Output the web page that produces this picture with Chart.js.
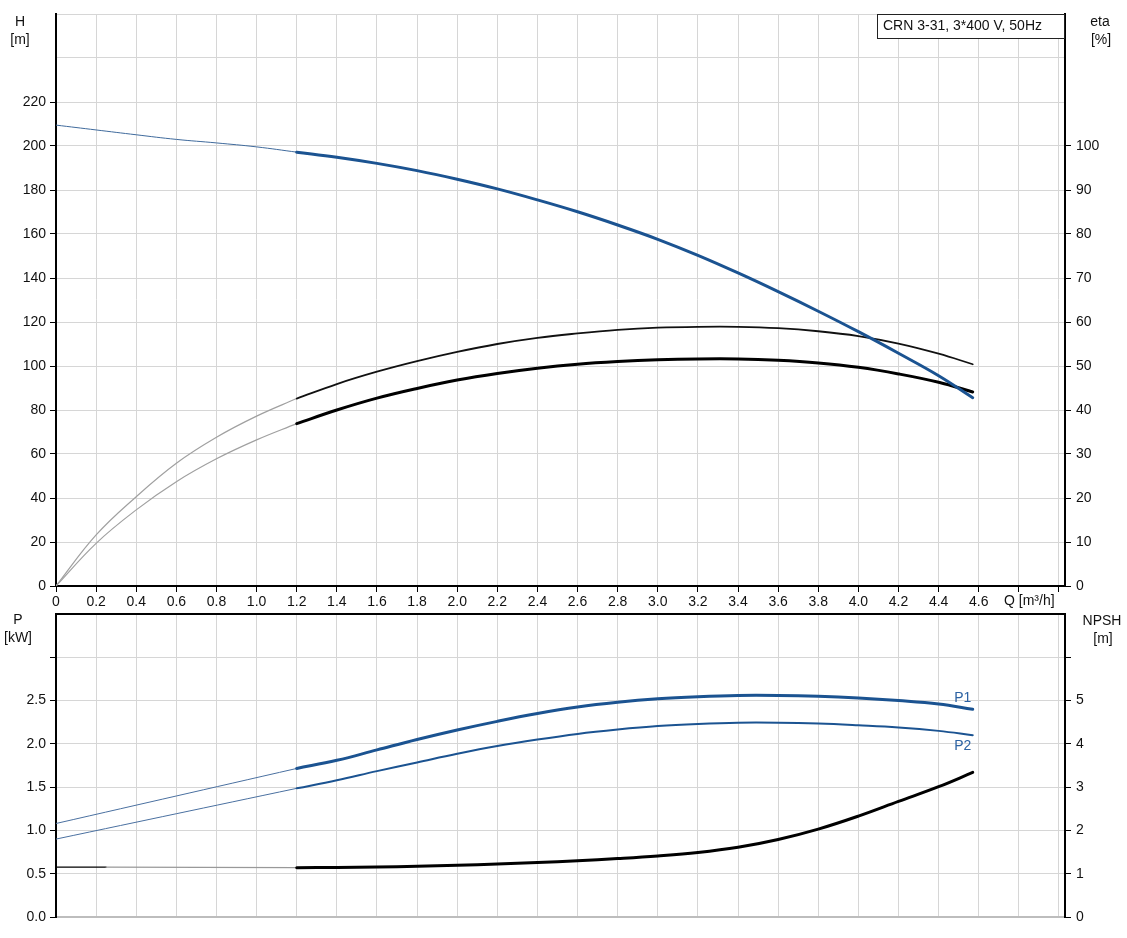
<!DOCTYPE html>
<html>
<head>
<meta charset="utf-8">
<script src="https://cdn.jsdelivr.net/npm/chart.js@4/dist/chart.umd.min.js"></script>
<style>
  html, body { margin: 0; padding: 0; background: #fff; }
  #wrap { position: relative; width: 1127px; height: 938px; }
  #wrap canvas { position: absolute; left: 0; }
  #top { top: 0; }
  #bottom { top: 610px; }
</style>
</head>
<body>
<div id="wrap">
  <canvas id="top" width="1127" height="610"></canvas>
  <canvas id="bottom" width="1127" height="328"></canvas>
</div>
<script>
// flow Q [m3/h] - thin part (outside the recommended range) and main part
const qThin = [0, 0.2, 0.4, 0.6, 0.8, 1.0, 1.2];
const qMain = [1.2, 1.4, 1.6, 1.8, 2.0, 2.2, 2.4, 2.6, 2.8, 3.0, 3.2, 3.4, 3.6, 3.8, 4.0, 4.2, 4.4, 4.57];

// head H [m]
const headThin = [209.5, 207.3, 205.1, 203.0, 201.4, 199.6, 197.2];
const headMain = [197.2, 194.9, 192.1, 188.8, 184.9, 180.5, 175.5, 170.1, 164.1, 157.6, 150.3, 142.3, 133.8, 124.9, 115.6, 105.8, 95.6, 85.6];

// efficiency eta [%]
const etaPumpThin = [0, 11.6, 20.3, 27.9, 33.8, 38.6, 42.6];
const etaPumpMain = [42.6, 45.9, 48.7, 51.1, 53.2, 55.0, 56.4, 57.4, 58.2, 58.7, 58.9, 58.9, 58.6, 57.9, 56.8, 55.1, 52.8, 50.4];
const etaTotalThin = [0, 9.7, 17.3, 23.7, 28.9, 33.2, 36.9];
const etaTotalMain = [36.9, 40.0, 42.7, 44.9, 46.8, 48.3, 49.5, 50.4, 51.0, 51.4, 51.6, 51.6, 51.3, 50.7, 49.7, 48.2, 46.3, 44.1];

// power P [kW]
const qPowerThin = [0, 1.2];
const p1Thin = [1.08, 1.716];
const p2Thin = [0.90, 1.486];
const p1Main = [1.716, 1.81, 1.93, 2.05, 2.16, 2.26, 2.35, 2.425, 2.48, 2.52, 2.545, 2.56, 2.56, 2.55, 2.53, 2.50, 2.46, 2.40];
const p2Main = [1.486, 1.58, 1.685, 1.785, 1.885, 1.975, 2.05, 2.115, 2.165, 2.205, 2.23, 2.245, 2.245, 2.235, 2.215, 2.19, 2.15, 2.10];

// NPSH [m]
const qNpshThin = [0, 0.25, 1.2];
const npshThin = [1.15, 1.15, 1.14];
const npshMain = [1.14, 1.145, 1.155, 1.17, 1.195, 1.225, 1.26, 1.30, 1.35, 1.41, 1.49, 1.61, 1.79, 2.03, 2.33, 2.67, 3.01, 3.34];

const FONT = 'Arial, "Liberation Sans", sans-serif';
const BLUE = '#1b5391';
const GRID = '#d6d6d6';
const TXT = '#111';

function pts(xs, ys) {
    return xs.map((x, i) => ({ x: x, y: ys[i] }));
}

function line(data, axis, color, width, extra) {
    return Object.assign({
        data: data,
        yAxisID: axis,
        borderColor: color,
        borderWidth: width,
        pointRadius: 0,
        fill: false,
        tension: 0.4,
        borderCapStyle: 'round'
    }, extra || {});
}

// fixed axis sizes so the plot areas sit exactly like the original
function fixWidth(w) {
    return function(scale) {
        scale.width = w;
        scale.paddingTop = 0;
        scale.paddingBottom = 0;
    };
}
function fixHeight(h) {
    return function(scale) {
        scale.height = h;
        scale.paddingLeft = 0;
        scale.paddingRight = 0;
    };
}
function hideAbove(limit) {
    return ctx => (ctx.tick && ctx.tick.value > limit + 1e-9) ? 'rgba(0,0,0,0)' : '#000';
}

function drawText(ctx, text, x, y, align, color) {
    ctx.save();
    ctx.font = '14px ' + FONT;
    ctx.fillStyle = color || TXT;
    ctx.textAlign = align || 'center';
    ctx.textBaseline = 'middle';
    ctx.fillText(text, x, y);
    ctx.restore();
}

// Texts of the upper diagram: axis units, type label, Q label
const topTexts = {
    id: 'topTexts',
    afterDraw(chart) {
        const ctx = chart.ctx;
        const area = chart.chartArea;
        drawText(ctx, 'H', 20, 22);
        drawText(ctx, '[m]', 20, 40);
        drawText(ctx, 'eta', 1100, 22);
        drawText(ctx, '[%]', 1101, 40);
        // type box
        ctx.save();
        ctx.fillStyle = '#fff';
        ctx.fillRect(877.5, area.top + 0.5, area.right - 878, 24);
        ctx.strokeStyle = '#222';
        ctx.lineWidth = 1;
        ctx.strokeRect(877.5, area.top + 0.5, area.right - 878, 24);
        ctx.restore();
        drawText(ctx, 'CRN 3-31, 3*400 V, 50Hz', 883, area.top + 12, 'left');
        drawText(ctx, 'Q [m³/h]', 1004, 601, 'left');
    }
};

const bottomTexts = {
    id: 'bottomTexts',
    afterDraw(chart) {
        const ctx = chart.ctx;
        const area = chart.chartArea;
        const sx = chart.scales.x, sy = chart.scales.y;
        drawText(ctx, 'P', 18, 10);
        drawText(ctx, '[kW]', 18, 28);
        drawText(ctx, 'NPSH', 1102, 11);
        drawText(ctx, '[m]', 1103, 29);
        const xe = sx.getPixelForValue(qMain[qMain.length - 1]);
        drawText(ctx, 'P1', xe - 10, sy.getPixelForValue(p1Main[p1Main.length - 1]) - 11, 'center', '#2c62a3');
        drawText(ctx, 'P2', xe - 10, sy.getPixelForValue(p2Main[p2Main.length - 1]) + 11, 'center', '#2c62a3');
        // black upper frame line
        ctx.save();
        ctx.strokeStyle = '#000';
        ctx.lineWidth = 2;
        ctx.beginPath();
        ctx.moveTo(area.left, area.top);
        ctx.lineTo(area.right, area.top);
        ctx.stroke();
        ctx.restore();
    }
};

const xCommon = {
    type: 'linear',
    min: 0,
    max: 5.03,
    grid: { color: GRID, tickColor: '#000', tickLength: 6 },
    border: { color: '#000', width: 2 }
};

// upper diagram: head and efficiency
new Chart(document.getElementById('top'), {
    type: 'line',
    data: {
        datasets: [
            line(pts(qMain, headMain), 'y', BLUE, 3),
            line(pts(qThin, headThin), 'y', '#3f6a9c', 1),
            line(pts(qMain, etaPumpMain), 'y2', '#111', 1.8),
            line(pts(qThin, etaPumpThin), 'y2', '#a0a0a0', 1.2),
            line(pts(qMain, etaTotalMain), 'y2', '#000', 3),
            line(pts(qThin, etaTotalThin), 'y2', '#a0a0a0', 1.2)
        ]
    },
    options: {
        responsive: false,
        animation: false,
        events: [],
        layout: { padding: { top: 14, left: 0, right: 0, bottom: 0 } },
        plugins: { legend: { display: false }, tooltip: { enabled: false } },
        scales: {
            x: Object.assign({}, xCommon, {
                afterFit: fixHeight(24),
                ticks: {
                    stepSize: 0.2,
                    includeBounds: false,
                    maxRotation: 0,
                    autoSkip: false,
                    padding: 2,
                    color: TXT,
                    font: { family: FONT, size: 14 },
                    callback: v => v > 4.7 ? '' : (v === 0 ? '0' : v.toFixed(1))
                }
            }),
            y: {
                position: 'left',
                min: 0,
                max: 260,
                afterFit: fixWidth(56),
                grid: { color: GRID, tickLength: 6, tickColor: hideAbove(220) },
                border: { color: '#000', width: 2 },
                ticks: {
                    stepSize: 20,
                    padding: 4,
                    color: TXT,
                    font: { family: FONT, size: 14 },
                    callback: v => v <= 220 ? String(v) : ''
                }
            },
            y2: {
                position: 'right',
                min: 0,
                max: 130,
                afterFit: fixWidth(62),
                grid: { drawOnChartArea: false, tickLength: 6, tickColor: hideAbove(100) },
                border: { color: '#000', width: 2 },
                ticks: {
                    stepSize: 10,
                    padding: 5,
                    color: TXT,
                    font: { family: FONT, size: 14 },
                    callback: v => v <= 100 ? String(v) : ''
                }
            }
        }
    },
    plugins: [topTexts]
});

// lower diagram: power and NPSH
new Chart(document.getElementById('bottom'), {
    type: 'line',
    data: {
        datasets: [
            line(pts(qMain, p1Main), 'y', BLUE, 3),
            line(pts(qPowerThin, p1Thin), 'y', '#4a70a0', 1),
            line(pts(qMain, p2Main), 'y', BLUE, 2),
            line(pts(qPowerThin, p2Thin), 'y', '#4a70a0', 1),
            line(pts(qMain, npshMain), 'y2', '#000', 3),
            line(pts(qNpshThin, npshThin), 'y2', '#999', 1.2, {
                segment: { borderColor: ctx => ctx.p0.parsed.x < 0.2 ? '#000' : '#999' }
            })
        ]
    },
    options: {
        responsive: false,
        animation: false,
        events: [],
        layout: { padding: { top: 4, left: 0, right: 0, bottom: 0 } },
        plugins: { legend: { display: false }, tooltip: { enabled: false } },
        scales: {
            x: Object.assign({}, xCommon, {
                afterFit: fixHeight(21),
                grid: { color: GRID, drawTicks: false },
                border: { color: '#bdbdbd', width: 2 },
                ticks: { display: false, stepSize: 0.2, includeBounds: false }
            }),
            y: {
                position: 'left',
                min: 0,
                max: 3.5,
                afterFit: fixWidth(56),
                grid: { color: GRID, tickLength: 6, tickColor: hideAbove(3.0) },
                border: { color: '#000', width: 2 },
                ticks: {
                    stepSize: 0.5,
                    padding: 4,
                    color: TXT,
                    font: { family: FONT, size: 14 },
                    callback: v => v <= 2.5 ? v.toFixed(1) : ''
                }
            },
            y2: {
                position: 'right',
                min: 0,
                max: 7,
                afterFit: fixWidth(62),
                grid: { drawOnChartArea: false, tickLength: 6, tickColor: hideAbove(6) },
                border: { color: '#000', width: 2 },
                ticks: {
                    stepSize: 1,
                    padding: 5,
                    color: TXT,
                    font: { family: FONT, size: 14 },
                    callback: v => v <= 5 ? String(v) : ''
                }
            }
        }
    },
    plugins: [bottomTexts]
});
</script>
</body>
</html>
